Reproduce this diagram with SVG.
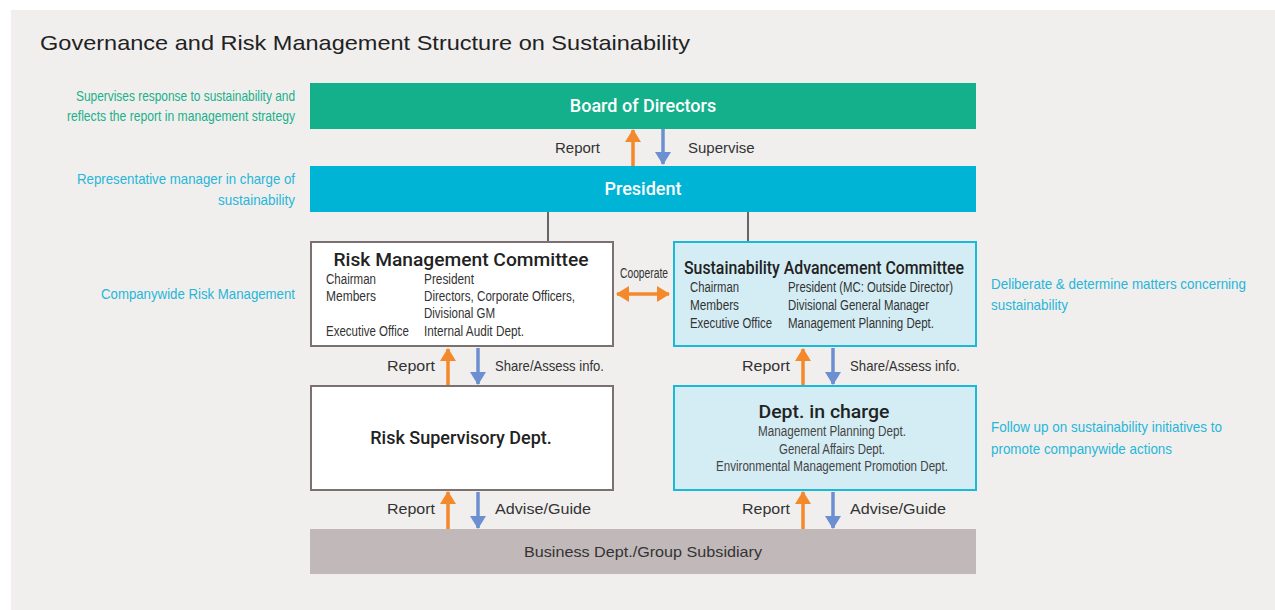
<svg xmlns="http://www.w3.org/2000/svg" width="1275" height="610" viewBox="0 0 1275 610">
<style>
text{font-family:"Liberation Sans",Arial,sans-serif;}
.title{font-size:21px;fill:#222;}
.bar{font-family:Roboto,"Liberation Sans",sans-serif;font-weight:500;font-size:18px;fill:#fff;text-anchor:middle;}
.head{font-family:Roboto,"Liberation Sans",sans-serif;font-weight:500;font-size:18px;fill:#222;text-anchor:middle;}
.row{font-size:14px;fill:#333;}
.sub{font-size:14px;fill:#444;text-anchor:middle;}
.lbl{font-size:15px;fill:#333;}
.ann-g{font-size:14.5px;fill:#20b08a;}
.ann-c{font-size:14.5px;fill:#27b6d8;}
.up{stroke:#f4892c;stroke-width:3.5;fill:none;marker-end:url(#ho);}
.down{stroke:#6b8fd0;stroke-width:3.5;fill:none;marker-end:url(#hb);}
.link{stroke:#666;stroke-width:2;fill:none;}
</style>
<defs>
<marker id="ho" markerUnits="userSpaceOnUse" markerWidth="16" markerHeight="16" refX="12" refY="8" orient="auto"><path d="M0,0 L13,8 L0,16 Z" fill="#f4892c"/></marker>
<marker id="hb" markerUnits="userSpaceOnUse" markerWidth="16" markerHeight="16" refX="12" refY="8" orient="auto"><path d="M0,0 L13,8 L0,16 Z" fill="#6b8fd0"/></marker>
<marker id="hos" markerUnits="userSpaceOnUse" markerWidth="16" markerHeight="16" refX="1" refY="8" orient="auto"><path d="M13,0 L0,8 L13,16 Z" fill="#f4892c"/></marker>
</defs>
<rect x="0" y="0" width="1275" height="610" fill="#fff"/>
<rect x="11" y="10" width="1264" height="600" fill="#f0efee"/>
<text class="title" x="40" y="50" textLength="650" lengthAdjust="spacingAndGlyphs">Governance and Risk Management Structure on Sustainability</text>

<g id="annotations">
<text class="ann-g" x="295" y="101" text-anchor="end" textLength="219" lengthAdjust="spacingAndGlyphs">Supervises response to sustainability and</text>
<text class="ann-g" x="295" y="121" text-anchor="end" textLength="228" lengthAdjust="spacingAndGlyphs">reflects the report in management strategy</text>
<text class="ann-c" x="295" y="184" text-anchor="end" textLength="218" lengthAdjust="spacingAndGlyphs">Representative manager in charge of</text>
<text class="ann-c" x="295" y="205" text-anchor="end" textLength="77" lengthAdjust="spacingAndGlyphs">sustainability</text>
<text class="ann-c" x="295" y="299" text-anchor="end" textLength="194" lengthAdjust="spacingAndGlyphs">Companywide Risk Management</text>
<text class="ann-c" x="991" y="289" textLength="255" lengthAdjust="spacingAndGlyphs">Deliberate &amp; determine matters concerning</text>
<text class="ann-c" x="991" y="310" textLength="77" lengthAdjust="spacingAndGlyphs">sustainability</text>
<text class="ann-c" x="991" y="432" textLength="231" lengthAdjust="spacingAndGlyphs">Follow up on sustainability initiatives to</text>
<text class="ann-c" x="991" y="454" textLength="181" lengthAdjust="spacingAndGlyphs">promote companywide actions</text>
</g>

<g id="board">
<rect x="310" y="83" width="666" height="46" fill="#13b08b"/>
<text class="bar" x="643" y="112">Board of Directors</text>
</g>
<g id="president">
<rect x="310" y="166" width="666" height="46" fill="#00b4d5"/>
<text class="bar" x="643" y="195">President</text>
</g>

<g id="connectors">
<line class="link" x1="548" y1="212" x2="548" y2="241"/>
<line class="link" x1="748" y1="212" x2="748" y2="241"/>
<line class="up" x1="633" y1="166" x2="633" y2="130"/>
<line class="down" x1="663" y1="129" x2="663" y2="164"/>
<line class="up" x1="448" y1="385" x2="448" y2="349"/>
<line class="down" x1="478" y1="348" x2="478" y2="384"/>
<line class="up" x1="803" y1="385" x2="803" y2="349"/>
<line class="down" x1="833" y1="348" x2="833" y2="384"/>
<line class="up" x1="448" y1="529" x2="448" y2="492"/>
<line class="down" x1="478" y1="492" x2="478" y2="528"/>
<line class="up" x1="803" y1="529" x2="803" y2="492"/>
<line class="down" x1="833" y1="492" x2="833" y2="528"/>
<line x1="617" y1="294" x2="669" y2="294" stroke="#f4892c" stroke-width="3.5" marker-start="url(#hos)" marker-end="url(#ho)"/>
<text class="lbl" x="600" y="153" text-anchor="end">Report</text>
<text class="lbl" x="688" y="153">Supervise</text>
<text class="lbl" x="435" y="371" text-anchor="end" textLength="48" lengthAdjust="spacingAndGlyphs">Report</text>
<text class="lbl" x="495" y="371" textLength="109" lengthAdjust="spacingAndGlyphs">Share/Assess info.</text>
<text class="lbl" x="790" y="371" text-anchor="end" textLength="48" lengthAdjust="spacingAndGlyphs">Report</text>
<text class="lbl" x="850" y="371" textLength="110" lengthAdjust="spacingAndGlyphs">Share/Assess info.</text>
<text class="lbl" x="435" y="514" text-anchor="end" textLength="48" lengthAdjust="spacingAndGlyphs">Report</text>
<text class="lbl" x="495" y="514" textLength="96" lengthAdjust="spacingAndGlyphs">Advise/Guide</text>
<text class="lbl" x="790" y="514" text-anchor="end" textLength="48" lengthAdjust="spacingAndGlyphs">Report</text>
<text class="lbl" x="850" y="514" textLength="96" lengthAdjust="spacingAndGlyphs">Advise/Guide</text>
<text class="row" x="620" y="278" textLength="48" lengthAdjust="spacingAndGlyphs">Cooperate</text>
</g>

<g id="rmc">
<rect x="311" y="242" width="302" height="104" fill="#fff" stroke="#7b7173" stroke-width="2"/>
<text class="head" x="461" y="266" textLength="255" lengthAdjust="spacingAndGlyphs">Risk Management Committee</text>
<text class="row" x="326" y="284" textLength="50" lengthAdjust="spacingAndGlyphs">Chairman</text>
<text class="row" x="326" y="301" textLength="50" lengthAdjust="spacingAndGlyphs">Members</text>
<text class="row" x="326" y="336" textLength="83" lengthAdjust="spacingAndGlyphs">Executive Office</text>
<text class="row" x="424" y="284" textLength="50" lengthAdjust="spacingAndGlyphs">President</text>
<text class="row" x="424" y="301" textLength="151" lengthAdjust="spacingAndGlyphs">Directors, Corporate Officers,</text>
<text class="row" x="424" y="318" textLength="71" lengthAdjust="spacingAndGlyphs">Divisional GM</text>
<text class="row" x="424" y="336" textLength="100" lengthAdjust="spacingAndGlyphs">Internal Audit Dept.</text>
</g>

<g id="sac">
<rect x="674" y="242" width="302" height="104" fill="#d4edf4" stroke="#1ab9d9" stroke-width="2"/>
<text class="head" x="824" y="274" textLength="280" lengthAdjust="spacingAndGlyphs">Sustainability Advancement Committee</text>
<text class="row" x="690" y="292" textLength="49" lengthAdjust="spacingAndGlyphs">Chairman</text>
<text class="row" x="690" y="310" textLength="49" lengthAdjust="spacingAndGlyphs">Members</text>
<text class="row" x="690" y="328" textLength="82" lengthAdjust="spacingAndGlyphs">Executive Office</text>
<text class="row" x="788" y="292" textLength="165" lengthAdjust="spacingAndGlyphs">President (MC: Outside Director)</text>
<text class="row" x="788" y="310" textLength="141" lengthAdjust="spacingAndGlyphs">Divisional General Manager</text>
<text class="row" x="788" y="328" textLength="146" lengthAdjust="spacingAndGlyphs">Management Planning Dept.</text>
</g>

<g id="rsd">
<rect x="311" y="386" width="302" height="104" fill="#fff" stroke="#7b7173" stroke-width="2"/>
<text class="head" x="461" y="444">Risk Supervisory Dept.</text>
</g>

<g id="dept">
<rect x="674" y="386" width="302" height="104" fill="#d4edf4" stroke="#1ab9d9" stroke-width="2"/>
<text class="head" x="824" y="418" textLength="131" lengthAdjust="spacingAndGlyphs">Dept. in charge</text>
<text class="sub" x="832" y="436" textLength="148" lengthAdjust="spacingAndGlyphs">Management Planning Dept.</text>
<text class="sub" x="832" y="454" textLength="106" lengthAdjust="spacingAndGlyphs">General Affairs Dept.</text>
<text class="sub" x="832" y="471" textLength="232" lengthAdjust="spacingAndGlyphs">Environmental Management Promotion Dept.</text>
</g>

<g id="business">
<rect x="310" y="529" width="666" height="45" fill="#c1b8b9"/>
<text x="643" y="557" text-anchor="middle" font-size="15" fill="#333" textLength="238" lengthAdjust="spacingAndGlyphs">Business Dept./Group Subsidiary</text>
</g>
</svg>
